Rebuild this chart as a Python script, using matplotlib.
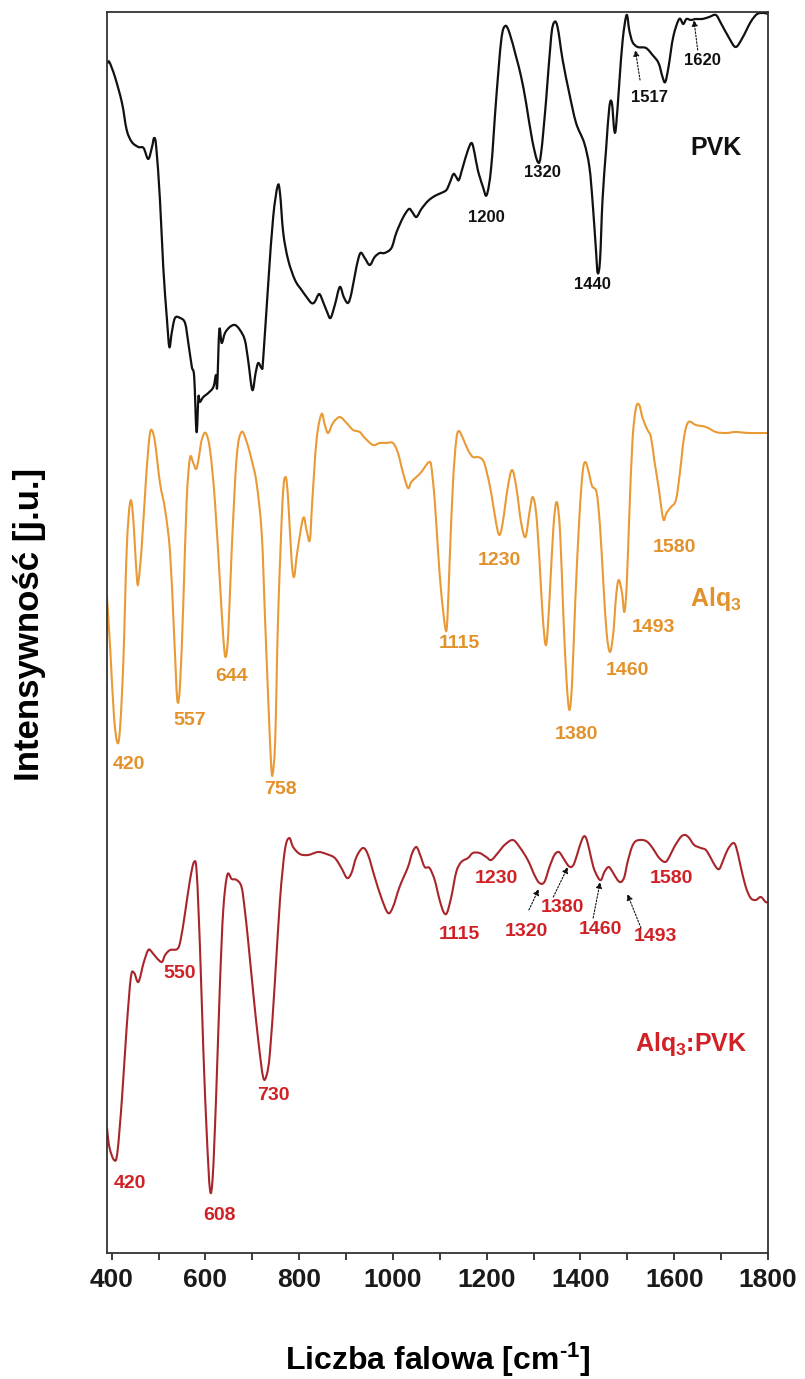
import matplotlib
matplotlib.use("Agg")
import matplotlib.pyplot as plt
from matplotlib.path import Path
from matplotlib.patches import PathPatch

plt.rcParams['font.family'] = ['Liberation Sans', 'DejaVu Sans']
plt.rcParams['font.weight'] = 'bold'
plt.rcParams['mathtext.fontset'] = 'custom'
plt.rcParams['mathtext.rm'] = 'Liberation Sans:bold'
plt.rcParams['mathtext.bf'] = 'Liberation Sans:bold'
plt.rcParams['mathtext.default'] = 'bf'

# ---------------- DATA (stacked spectra, offsets already included) ----------------
pvk_wn = [391, 395, 407, 422, 432, 443, 457, 468, 478, 486, 490.5, 495, 503, 510, 517.5,
          523, 528, 535, 546, 556.5, 563.5, 571, 576, 581, 585, 588, 595.5, 606, 617,
          622.5, 625, 629.6, 634.6, 641.7, 652, 663, 673.6, 684, 691, 700, 707, 712.6,
          720, 723, 734, 744.5, 754, 759, 766, 776.5, 791, 805, 815.7, 826, 833, 842.6,
          851, 859.5, 866.8, 876, 886.6, 895, 904, 911.5, 922, 930.7, 939.8, 950.5, 961,
          971.8, 982, 996.7, 1007, 1021, 1034, 1041, 1050, 1060.6, 1074.7, 1089, 1103,
          1114, 1121, 1129, 1135, 1140.6, 1149, 1160, 1168, 1174, 1181, 1192, 1200,
          1209.6, 1220, 1231, 1239.4, 1248.6, 1262.8, 1273.5, 1284, 1297, 1309, 1316,
          1326.7, 1337.4, 1344.4, 1351.5, 1362, 1376, 1390.6, 1408, 1419, 1426, 1433,
          1436.7, 1441.7, 1447, 1454.5, 1461.6, 1467, 1472, 1475.8, 1482.8, 1490,
          1498.4, 1504, 1511, 1522, 1539.7, 1553.7, 1566.5, 1575, 1580.8, 1587.8,
          1597.8, 1610.6, 1619, 1626, 1635.5, 1646, 1660, 1674.5, 1688.8, 1699.4, 1717,
          1731, 1745.3, 1763, 1777, 1791.6, 1800]
pvk_int = [119.0, 119.1, 117.6, 115.0, 112.3, 111.1, 110.6, 110.5, 109.4, 110.6, 111.5,
           110.6, 105.3, 98.6, 93.6, 90.6, 92.0, 93.5, 93.5, 93.0, 91.0, 88.6, 87.6,
           82.1, 85.6, 85.1, 85.6, 86.0, 86.6, 87.8, 86.6, 92.3, 91.0, 92.0, 92.6, 92.8,
           92.3, 91.3, 89.3, 86.3, 88.0, 89.0, 88.5, 89.3, 97.0, 103.6, 106.7, 106.0,
           102.0, 99.3, 97.3, 96.3, 95.6, 95.0, 95.1, 95.9, 95.1, 94.1, 93.5, 94.8, 96.6,
           95.6, 95.0, 96.0, 98.6, 100.0, 99.5, 98.8, 99.6, 100.0, 100.0, 100.5, 102.0,
           103.5, 104.4, 104.1, 103.6, 104.4, 105.2, 105.7, 106.0, 106.3, 107.0, 107.9,
           107.6, 107.3, 108.6, 110.3, 111.0, 110.0, 108.3, 106.6, 105.8, 108.6, 115.3,
           121.3, 122.7, 122.0, 119.6, 117.6, 115.0, 111.3, 109.1, 110.0, 115.3, 121.6,
           123.1, 122.5, 119.3, 116.0, 113.0, 111.0, 108.6, 105.0, 100.3, 98.0, 99.3,
           105.3, 110.3, 114.6, 115.0, 112.3, 112.6, 117.0, 121.3, 123.8, 122.3, 121.1,
           120.6, 120.5, 119.8, 119.0, 117.6, 117.1, 118.6, 121.6, 123.4, 122.9, 123.4,
           123.3, 123.4, 123.4, 123.6, 123.8, 123.0, 121.5, 120.6, 121.5, 123.1, 123.9,
           124.0, 123.9]

alq_wn = [390, 397, 405, 412.4, 418, 425, 432, 439, 445, 453.6, 457, 464, 473.5, 480.6,
          485.6, 492.6, 503, 514, 524.6, 533, 540, 546, 553, 560, 567, 574, 580, 585,
          592, 600.6, 609.8, 620, 631, 638, 643, 648.7, 656, 666.6, 677, 688, 698.6, 709,
          720, 727, 734, 739.6, 743, 748.8, 755, 764.6, 771, 776.5, 783.7, 789, 795.6,
          808.5, 815.6, 822.7, 828, 837, 847.6, 854.6, 861.7, 872, 886.6, 901, 915, 929,
          940, 957.5, 971.8, 986, 1000, 1010.7, 1021, 1032, 1039, 1050, 1060.6, 1071,
          1078, 1082, 1089, 1096, 1103, 1112, 1116, 1121, 1128, 1135, 1140.6, 1149, 1160,
          1170.4, 1181, 1191.7, 1199, 1209.6, 1220, 1227, 1234, 1245, 1254, 1263, 1273.5,
          1282.7, 1291, 1298, 1305.4, 1312.5, 1319.5, 1326.7, 1333.8, 1342.3, 1349.4,
          1356.6, 1363.6, 1370.6, 1376.4, 1382, 1389, 1397.7, 1404.7, 1410.4, 1417.5,
          1424.7, 1434.5, 1441.7, 1448.8, 1455.8, 1463, 1470, 1475.8, 1481.4, 1488.6,
          1493.5, 1498.4, 1504, 1511, 1518.4, 1525.4, 1532.5, 1543, 1550.3, 1557.4,
          1566.5, 1576.5, 1583.5, 1593, 1603.6, 1612, 1621, 1630.4, 1646, 1667.5, 1688.8,
          1710, 1731.3, 1760, 1800]
alq_int = [65.6, 60.3, 53.6, 51.0, 52.6, 59.3, 70.3, 75.0, 74.0, 67.6, 67.1, 70.6, 77.6,
           81.6, 82.3, 81.0, 77.0, 74.3, 70.0, 62.0, 55.3, 57.0, 65.3, 75.3, 79.5, 79.0,
           78.4, 79.3, 81.3, 82.0, 80.3, 75.3, 67.0, 61.6, 59.6, 62.0, 70.3, 79.6, 82.1,
           81.1, 79.3, 77.0, 72.0, 63.6, 55.3, 49.3, 47.8, 51.3, 63.6, 75.3, 77.6, 75.3,
           69.3, 67.6, 70.0, 73.5, 72.3, 71.3, 75.3, 81.3, 83.9, 82.8, 82.0, 83.0, 83.6,
           83.0, 82.3, 82.1, 81.5, 80.8, 81.0, 81.0, 81.0, 80.0, 78.1, 76.5, 77.1, 77.6,
           78.1, 78.8, 79.1, 78.6, 75.3, 70.3, 66.0, 62.4, 63.3, 69.3, 77.0, 81.3, 82.2,
           81.5, 80.3, 79.6, 79.6, 79.3, 78.3, 76.0, 73.0, 71.8, 73.0, 76.6, 78.3, 76.6,
           73.0, 71.6, 74.0, 75.6, 74.0, 69.3, 63.6, 60.8, 65.3, 72.6, 75.1, 72.0, 63.6,
           57.0, 54.3, 57.0, 65.3, 73.6, 78.1, 79.1, 78.1, 76.7, 76.0, 72.6, 67.0, 62.0,
           60.1, 62.0, 65.6, 67.3, 66.0, 64.1, 66.6, 73.6, 81.3, 84.5, 84.8, 83.5, 82.3,
           81.6, 79.3, 76.6, 73.4, 74.0, 74.6, 75.3, 78.0, 81.6, 83.1, 82.8, 82.6, 82.1,
           82.0, 82.1, 82.0, 82.0]

mix_wn = [390, 395, 405, 412, 421.7, 432, 441, 448, 457, 468, 478, 485.6, 496, 507, 514,
          524.6, 540, 547, 556.5, 567, 575.7, 581.4, 588.5, 595.5, 602.7, 609.7, 615.5,
          622.5, 631, 638, 646.6, 656, 666.6, 677, 684, 691.5, 702, 712.6, 723, 730.5,
          737.5, 748, 759, 769.5, 778.7, 787, 801.4, 819, 840.4, 858, 876, 890, 902,
          911.5, 922, 936, 947, 961, 975.4, 989.5, 1000, 1014, 1032, 1041, 1050, 1058,
          1067.6, 1078, 1089, 1099.5, 1108, 1115, 1124.4, 1135, 1145.7, 1160, 1170.4,
          1184.7, 1199, 1209.6, 1223.7, 1238, 1255.6, 1270, 1287.6, 1301.8, 1312.5, 1323,
          1333.8, 1344.4, 1353.6, 1362, 1372.7, 1380, 1387, 1397.7, 1406, 1412, 1419,
          1427.5, 1436.7, 1443.8, 1451, 1460, 1468.6, 1479, 1486.4, 1493.5, 1500.5,
          1509.8, 1518.4, 1532.5, 1543, 1553.7, 1568, 1580.8, 1589.3, 1600, 1614, 1623.4,
          1631.9, 1642.5, 1656.8, 1667.5, 1678, 1688.8, 1696, 1703, 1713.5, 1725.6,
          1732.6, 1742, 1752.6, 1763, 1774, 1784.6, 1795, 1800]
mix_int = [12.5, 10.6, 9.3, 10.0, 15.3, 22.6, 27.6, 28.0, 27.1, 29.0, 30.3, 30.1, 29.5,
           29.1, 29.8, 30.3, 30.4, 31.3, 34.0, 37.3, 39.1, 38.0, 30.3, 20.3, 12.0, 6.3,
           7.6, 15.3, 27.0, 34.3, 37.8, 37.4, 37.3, 36.6, 34.3, 31.0, 26.0, 21.3, 17.6,
           17.8, 20.0, 27.0, 35.3, 40.3, 41.5, 40.6, 39.9, 39.8, 40.1, 39.9, 39.5, 38.5,
           37.5, 38.0, 39.6, 40.5, 39.8, 37.6, 35.5, 34.0, 34.6, 36.6, 38.6, 40.0, 40.6,
           39.8, 38.6, 38.5, 37.3, 35.3, 34.1, 34.0, 35.6, 38.1, 39.1, 39.5, 40.0, 40.0,
           39.6, 39.3, 40.0, 40.8, 41.3, 40.6, 39.3, 37.8, 37.0, 37.1, 38.6, 39.8, 40.1,
           39.6, 38.8, 38.6, 39.0, 40.6, 41.6, 41.5, 40.3, 38.6, 37.6, 37.3, 38.1, 38.6,
           38.1, 37.3, 37.1, 37.6, 39.1, 40.6, 41.2, 41.3, 41.1, 40.5, 39.5, 39.1, 39.6,
           40.6, 41.6, 41.8, 41.5, 40.8, 40.5, 40.3, 39.5, 38.6, 38.4, 39.1, 40.3, 41.0,
           40.5, 38.6, 36.6, 35.5, 35.3, 35.6, 35.1, 35.1]

# peak labels: (text, wavenumber position, intensity position)
pvk_labels = [("1200", 1199, 103.5), ("1320", 1319, 108.0), ("1440", 1426, 96.8),
              ("1517", 1547, 115.5), ("1620", 1660, 119.2)]
alq_labels = [("420", 436, 48.8), ("557", 567, 53.2), ("644", 656, 57.6),
              ("758", 760, 46.3), ("1115", 1142, 60.9), ("1230", 1226, 69.2),
              ("1380", 1391, 51.8), ("1460", 1500, 58.2), ("1493", 1555, 62.5),
              ("1580", 1600, 70.5)]
mix_labels = [("420", 439, 7.0), ("608", 631, 3.8), ("730", 744, 15.8),
              ("550", 544, 27.9), ("1115", 1142, 31.8), ("1230", 1220, 37.4),
              ("1320", 1285, 32.1), ("1380", 1362, 34.5), ("1460", 1442, 32.3),
              ("1493", 1559, 31.6), ("1580", 1595, 37.4)]

# dotted pointer arrows: (tail_wn, tail_int, head_wn, head_int)
pvk_arrows = [(1527, 117.3, 1517, 120.3), (1650, 120.3, 1642, 123.3)]
mix_arrows = [(1290, 34.3, 1311, 36.4), (1342, 35.6, 1373, 38.6),
              (1427, 33.5, 1442, 37.1), (1529, 32.5, 1500, 35.9)]

# colours
black = '#111111'
orange_line = '#E99A35'
orange_text = '#E3912A'
red_line = '#A8262B'
red_text = '#D02226'


def smooth_path(xs, ys):
    # Catmull-Rom curve through the points, written as cubic Bezier segments
    pts = list(zip(xs, ys))
    verts = [pts[0]]
    codes = [Path.MOVETO]
    n = len(pts)
    for i in range(n - 1):
        p0 = pts[max(i - 1, 0)]
        p1 = pts[i]
        p2 = pts[i + 1]
        p3 = pts[min(i + 2, n - 1)]
        c1 = (p1[0] + (p2[0] - p0[0]) / 6, p1[1] + (p2[1] - p0[1]) / 6)
        c2 = (p2[0] - (p3[0] - p1[0]) / 6, p2[1] - (p3[1] - p1[1]) / 6)
        verts += [c1, c2, p2]
        codes += [Path.CURVE4] * 3
    return Path(verts, codes)


# ---------------- PLOT ----------------
fig = plt.figure(figsize=(8.05, 13.79), dpi=100)
ax = fig.add_axes([107 / 805, 1 - 1253 / 1379, 661 / 805, 1241 / 1379])

for xs, ys, col, lw in [(pvk_wn, pvk_int, black, 1.6),
                        (alq_wn, alq_int, orange_line, 1.5),
                        (mix_wn, mix_int, red_line, 1.5)]:
    ax.add_patch(PathPatch(smooth_path(xs, ys), fill=False, edgecolor=col, lw=lw,
                           joinstyle='round', capstyle='round'))

for txt, x, y in pvk_labels:
    ax.text(x, y, txt, color=black, fontsize=12, fontweight='bold', ha='center', va='center')
for txt, x, y in alq_labels:
    ax.text(x, y, txt, color=orange_text, fontsize=14, fontweight='bold', ha='center', va='center')
for txt, x, y in mix_labels:
    ax.text(x, y, txt, color=red_text, fontsize=14, fontweight='bold', ha='center', va='center')

ax.text(1689, 110.5, "PVK", color=black, fontsize=18, fontweight='bold', ha='center', va='center')
ax.text(1689, 65.4, r"Alq$_3$", color=orange_text, fontsize=18, fontweight='bold', ha='center', va='center')
ax.text(1636, 20.9, r"Alq$_3$:PVK", color=red_text, fontsize=18, fontweight='bold', ha='center', va='center')

for x0, y0, x1, y1 in pvk_arrows + mix_arrows:
    ax.annotate('', xy=(x1, y1), xytext=(x0, y0),
                arrowprops=dict(arrowstyle='-|>', linestyle=(0, (1.5, 1.5)), color=black,
                                lw=0.8, mutation_scale=9, shrinkA=0, shrinkB=0))

ax.set_xlim(390, 1800)
ax.set_ylim(0, 124.1)
ax.set_xticks(range(400, 1801, 200))
ax.set_xticks(range(500, 1800, 200), minor=True)
ax.set_yticks([])
ax.tick_params(axis='x', which='both', direction='out', length=5, width=1.2, pad=6,
               labelsize=19, colors='#1a1a1a')
for lab in ax.get_xticklabels():
    lab.set_fontweight('bold')
for sp in ax.spines.values():
    sp.set_color('#333333')
    sp.set_linewidth(1.3)

fig.text(437.5 / 805, 1 - 1370 / 1379, r"Liczba falowa [cm$^{\text{-1}}$]", fontsize=23,
         fontweight='bold', ha='center', va='baseline')
fig.text(30 / 805, 1 - 624 / 1379, "Intensywność [j.u.]", fontsize=25, fontweight='bold',
         rotation=90, ha='center', va='center')

fig.savefig("out.png", dpi=100)
